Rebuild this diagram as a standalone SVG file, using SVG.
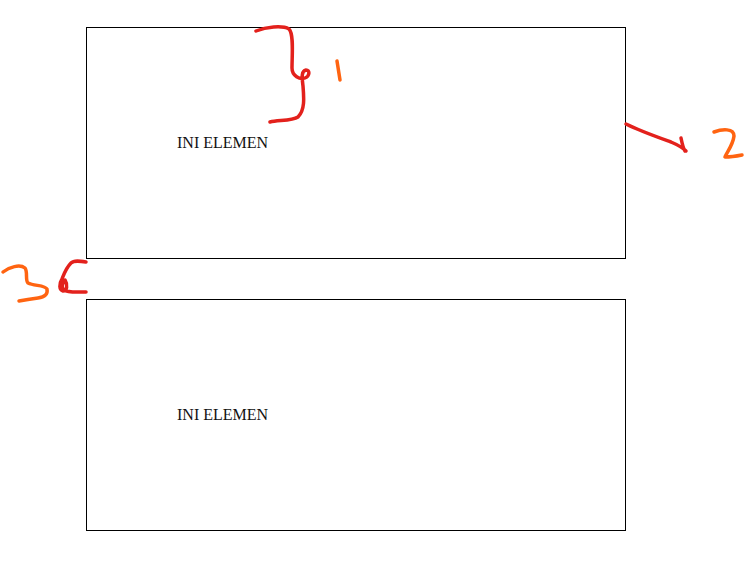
<svg xmlns="http://www.w3.org/2000/svg" width="745" height="579" viewBox="0 0 745 579">
<style>
.box{fill:#fff;stroke:#000;stroke-width:1}
.lbl{font-family:"Liberation Serif","Times New Roman",serif;font-size:16px;fill:#111}
.red{fill:none;stroke:#e3211c;stroke-width:3.5;stroke-linecap:round;stroke-linejoin:round}
.org{fill:none;stroke:#ff6411;stroke-width:3.5;stroke-linecap:round;stroke-linejoin:round}
</style>
<rect width="745" height="579" fill="#fff"/>
<g id="element1">
<rect class="box" x="86.5" y="27.5" width="539" height="231"/>
<text class="lbl" x="177" y="148">INI ELEMEN</text>
</g>
<g id="element2">
<rect class="box" x="86.5" y="299.5" width="539" height="231"/>
<text class="lbl" x="177" y="420">INI ELEMEN</text>
</g>
<g id="annotations">
<path class="red" d="M256 31 C266 27 282 25 289 29 C294 34 292 55 292 68 C292 76 300 80 305 78 C310 76 310 70 306 70 C301 71 302 78 303 86 C304 98 305 110 298 117 C292 121 278 120 270 122"/>
<path class="org" d="M337 61 L340 80"/>
<path class="red" d="M626 124 C640 131 660 138 671 142 C678 145 683 148 686 151 M681 138 C682 143 683 148 685 151"/>
<path class="org" d="M714 132 C722 129 734 128 734 136 C733 145 727 152 725 157 C731 157 737 156 742 155"/>
<path class="org" d="M3 272 C9 267 20 264 25 268 C28 272 25 280 28 283 C34 286 45 285 47 289 C48 294 45 297 38 298 C30 299 24 300 19 301"/>
<path class="red" d="M86 262 C80 261 74 260 71 263 C66 268 64 274 62 279 C59 284 59 290 63 291 C67 291 68 285 65 280 C62 283 61 288 64 290 C68 293 76 292 86 292"/>
</g>
</svg>
